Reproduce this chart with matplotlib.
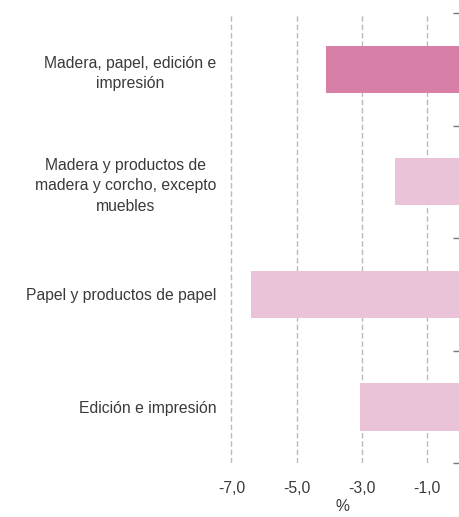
import matplotlib
matplotlib.use('Agg')
import matplotlib.pyplot as plt
import numpy as np

# Data
categories = ['Madera, papel, edición e\nimpresión',
              'Madera y productos de\nmadera y corcho, excepto\nmuebles',
              'Papel y productos de papel',
              'Edición e impresión']
values = [-4.1, -2.0, -6.4, -3.05]
colors = ['#D87FA8', '#EBC3D9', '#EBC3D9', '#EBC3D9']
xticks = [-7, -5, -3, -1]
xtick_labels = ['-7,0', '-5,0', '-3,0', '-1,0']

plt.rcParams['font.family'] = ['Liberation Sans', 'DejaVu Sans']
fs = 11.3
tc = '#3a3a3a'

fig = plt.figure(figsize=(4.6, 5.17), dpi=100)
ax = fig.add_axes([0.489, 0.104, 0.511, 0.871])

y = np.arange(len(categories))
ax.barh(y, values, height=0.42, color=colors, zorder=2)

ax.set_ylim(len(categories) - 0.5, -0.5)
ax.set_xlim(-7.2, 0)

# dashed vertical gridlines
ax.set_xticks(xticks)
ax.set_xticklabels(xtick_labels, fontsize=fs, color=tc)
ax.grid(axis='x', linestyle=(0, (4, 2)), color='#BBBBBB', linewidth=1, zorder=0)

ax.set_yticks(y)
ax.set_yticklabels(categories, fontsize=fs, color=tc,
                   multialignment='center', linespacing=1.45)
ax.set_yticks(np.arange(len(categories) + 1) - 0.5, minor=True)

ax.tick_params(axis='x', length=0, pad=13)
ax.tick_params(axis='y', which='major', length=0, pad=6)
ax.tick_params(axis='y', which='minor', left=False, right=True,
               direction='in', length=5, width=1, color='#777777')

for s in ax.spines.values():
    s.set_visible(False)

ax.set_xlabel('%', fontsize=fs, color=tc, labelpad=2)

fig.savefig('out.png', dpi=100)
